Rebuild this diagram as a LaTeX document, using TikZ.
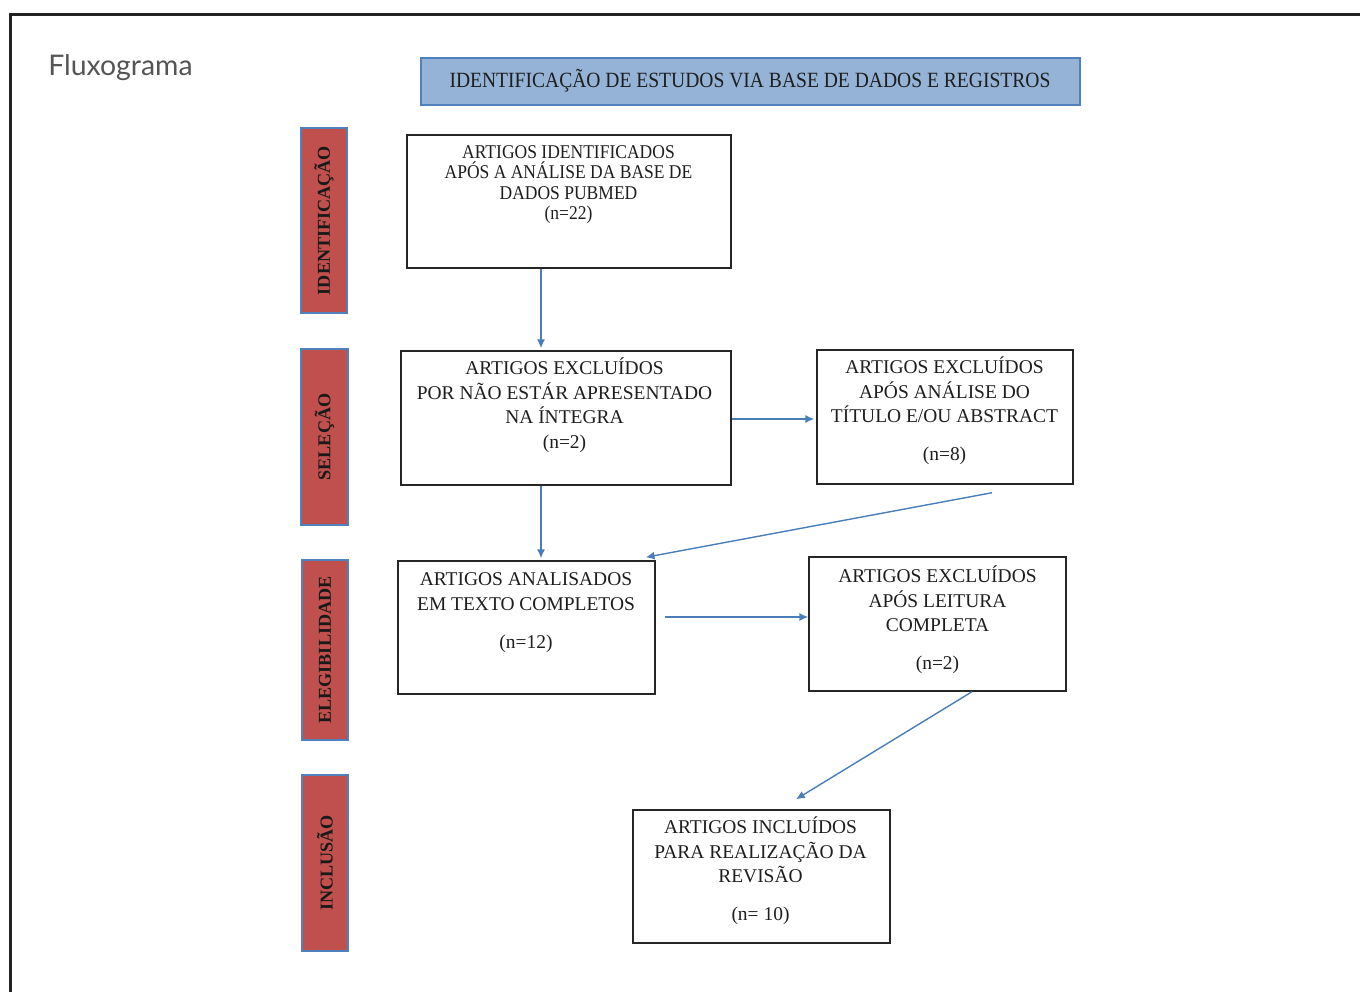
\documentclass[tikz,border=0pt]{standalone}
\usepackage{fontspec}
\setmainfont{Liberation Serif}
\newfontfamily\condserif[FakeStretch=0.9]{Liberation Serif}
\newfontfamily\latofont{Lato}
\usetikzlibrary{arrows.meta,calc}
\definecolor{framegray}{HTML}{222222}
\definecolor{hdrfill}{HTML}{95B3D7}
\definecolor{hdrline}{HTML}{4F81BD}
\definecolor{sidefill}{HTML}{C0504D}
\definecolor{arrowblue}{HTML}{4A7EBB}
\definecolor{txtgray}{HTML}{1E1E1E}
\definecolor{titlegray}{HTML}{555555}
\tikzset{
  px/.style={x=0.75pt,y=-0.75pt},
  boxnode/.style={draw=black!85,line width=1.1pt,inner sep=0pt,fill=white},
  sidenode/.style={draw=hdrline,fill=sidefill,line width=2pt,inner sep=0pt,rotate=90,
     font=\fontsize{13.6pt}{16pt}\selectfont\bfseries,text=black!90},
  txtA/.style={inner sep=0pt,align=center,text=txtgray,anchor=north,
     font=\fontsize{14.6pt}{18.4pt}\selectfont,execute at begin node=\strut},
  txtB/.style={inner sep=0pt,align=center,text=txtgray,anchor=north,
     font=\condserif\fontsize{14.6pt}{15.4pt}\selectfont,execute at begin node=\strut},
  arr/.style={draw=arrowblue,line width=1.05pt,-{Latex[length=6.6pt,width=6pt]}},
}
\begin{document}
\begin{tikzpicture}[px]
\useasboundingbox (0,0) rectangle (1360,992);
% outer frame
\draw[framegray,line width=2.1pt] (1365,14.5) -- (10.5,14.5) -- (10.5,998);
% title
\node[anchor=base west,inner sep=0pt,text=titlegray,font=\latofont\fontsize{21.3pt}{24pt}\selectfont] (title) at (48,75) {Fluxograma};
% header
\node[draw=hdrline,fill=hdrfill,line width=2pt,inner sep=0pt,minimum width=659*0.75pt,minimum height=47*0.75pt] (hdr) at (750.5,81.5) {};
\node[anchor=base,inner sep=0pt,text=txtgray,font=\condserif\fontsize{16.3pt}{18pt}\selectfont] (hdrt) at (750,87.2) {IDENTIFICAÇÃO DE ESTUDOS VIA BASE DE DADOS E REGISTROS};
% side labels
\node[sidenode,minimum width=185*0.75pt,minimum height=46*0.75pt] (s1) at (324,220.5) {IDENTIFICAÇÃO};
\node[sidenode,minimum width=176*0.75pt,minimum height=47*0.75pt] (s2) at (324.5,437) {SELEÇÃO};
\node[sidenode,minimum width=180*0.75pt,minimum height=46*0.75pt] (s3) at (325,650) {ELEGIBILIDADE};
\node[sidenode,minimum width=176*0.75pt,minimum height=46*0.75pt] (s4) at (325,863) {INCLUSÃO};
% boxes
\node[boxnode,minimum width=324*0.75pt,minimum height=133*0.75pt] (b1) at (569,201.5) {};
\node[boxnode,minimum width=330*0.75pt,minimum height=134*0.75pt] (b2) at (566,418) {};
\node[boxnode,minimum width=256*0.75pt,minimum height=134*0.75pt] (b3) at (945,417) {};
\node[boxnode,minimum width=257*0.75pt,minimum height=133*0.75pt] (b4) at (526.5,627.5) {};
\node[boxnode,minimum width=257*0.75pt,minimum height=134*0.75pt] (b5) at (937.5,624) {};
\node[boxnode,minimum width=257*0.75pt,minimum height=133*0.75pt] (b6) at (761.5,876.5) {};
% box texts
\node[txtB] (t1) at (568.5,145.2) {ARTIGOS IDENTIFICADOS\\APÓS A ANÁLISE DA BASE DE\\DADOS PUBMED\\(n=22)};
\node[txtA] (t2) at (564.5,357.6) {ARTIGOS EXCLUÍDOS\\POR NÃO ESTÁR APRESENTADO\\NA ÍNTEGRA\\(n=2)};
\node[txtA] (t3) at (944.5,356.6) {ARTIGOS EXCLUÍDOS\\APÓS ANÁLISE DO\\TÍTULO E/OU ABSTRACT\\[10.2pt](n=8)};
\node[txtA] (t4) at (526,572.5) {ARTIGOS ANALISADOS\\EM TEXTO COMPLETOS\\[10.5pt](n=12)};
\node[txtA] (t5) at (937.5,565.6) {ARTIGOS EXCLUÍDOS\\APÓS LEITURA\\COMPLETA\\[10.2pt](n=2)};
\node[txtA] (t6) at (760.5,816.6) {ARTIGOS INCLUÍDOS\\PARA REALIZAÇÃO DA\\REVISÃO\\[10.2pt](n= 10)};
% connectors
\draw[arr] ([xshift=-28*0.75pt]b1.south) -- ([xshift=-25*0.75pt,yshift=1.5pt]b2.north);
\draw[arr] ([yshift=-0.75pt]b2.east) -- ([xshift=-1.5pt,yshift=-1.5pt]b3.west);
\draw[arr] ([xshift=-25*0.75pt]b2.south) -- ([xshift=14.5*0.75pt,yshift=1.5pt]b4.north);
\draw[arr] ([xshift=47*0.75pt,yshift=-8*0.75pt]b3.south) -- ([xshift=-10*0.75pt,yshift=3*0.75pt]b4.north east);
\draw[arr] ([xshift=9*0.75pt,yshift=10.5*0.75pt]b4.east) -- ([yshift=7*0.75pt]b5.west);
\draw[arr] ([xshift=34.5*0.75pt]b5.south) -- ([xshift=34.5*0.75pt,yshift=10*0.75pt]b6.north);
\end{tikzpicture}
\end{document}
